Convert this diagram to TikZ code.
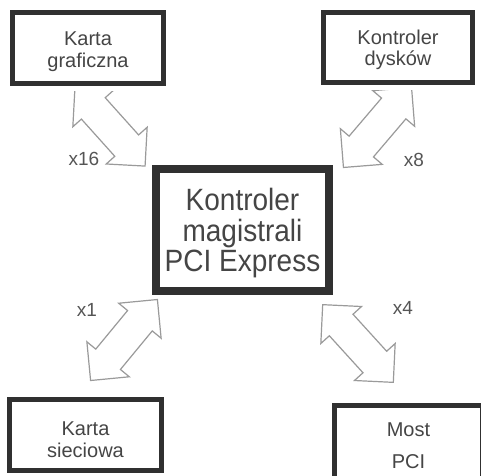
\documentclass[tikz,border=0pt]{standalone}
\usepackage{fontspec}
\setmainfont{Liberation Sans}
\usepackage{graphicx}
\definecolor{boxc}{HTML}{303030}
\definecolor{txtc}{HTML}{454545}
\definecolor{lblc}{HTML}{555555}
\definecolor{arrc}{HTML}{9A9A9A}
\newcommand{\lowered}[2]{\raisebox{#1}[\height][\depth]{#2}}
\newcommand{\twolines}[3]{\lowered{#1}{\begin{tabular}{@{}c@{}}#2\\#3\end{tabular}}}
\tikzset{
  unit/.style={draw=boxc, line width=4.5pt, fill=white, inner sep=0pt,
    align=center, text=txtc, font=\fontsize{20}{21.5}\selectfont,
    minimum width=151pt, minimum height=71pt,
    preaction={draw=white, line width=14pt}},
  hub/.style={draw=boxc, line width=8pt, fill=white, inner sep=0pt,
    align=center, text=txtc, minimum width=173pt, minimum height=122pt},
  lbl/.style={text=lblc, font=\fontsize{19}{19}\selectfont, inner sep=0pt},
  arrowline/.style={draw=arrc, line width=1.2pt, fill=white, line join=miter},
  dblarrow/.pic={\draw[arrowline] (-52.5,0) -- (-25,-27.5) -- (-25,-16) -- (25,-16)
      -- (25,-27.5) -- (52.5,0) -- (25,27.5) -- (25,16) -- (-25,16) -- (-25,27.5) -- cycle;}
}
\begin{document}
\begin{tikzpicture}[x=1pt,y=-1pt]
\useasboundingbox (0,0) rectangle (481,475);
\clip (0,0) rectangle (481,475);
\fill[white] (0,0) rectangle (481,475);
% arrow end points
\coordinate (tla) at (75,88);   \coordinate (tlb) at (145,166);
\coordinate (tra) at (412,87);  \coordinate (trb) at (343,168);
\coordinate (bla) at (157,300); \coordinate (blb) at (91,380);
\coordinate (bra) at (323,305); \coordinate (brb) at (393,382);
% arrows
\path (tla) -- (tlb) pic[pos=0.5, sloped]{dblarrow};
\path (tra) -- (trb) pic[pos=0.5, sloped]{dblarrow};
\path (bla) -- (blb) pic[pos=0.5, sloped]{dblarrow};
\path (bra) -- (brb) pic[pos=0.5, sloped]{dblarrow};
% boxes
\node[unit] (kg) at (88,48) {\twolines{-4pt}{Karta}{graficzna}};
\node[unit, minimum width=149pt, minimum height=70pt] (kd) at (398,47.5) {\twolines{-3pt}{Kontroler}{dysków}};
\node[unit, minimum width=152pt] (ks) at (85.5,435) {\twolines{-7pt}{Karta}{sieciowa}};
\node[unit, minimum width=148pt, minimum height=72.5pt] (mp) at (408.5,441.75)
  {\lowered{-4pt}{\fontsize{20}{32}\selectfont\begin{tabular}{@{}c@{}}Most\\PCI\end{tabular}}};
\node[hub] (hub) at (242.5,230) {\lowered{-4pt}{\scalebox{1}[1.1]{\fontsize{28}{25.5}\selectfont\begin{tabular}{@{}c@{}}Kontroler\\magistrali\\PCI Express\end{tabular}}}};
% labels
\node[lbl] (l16) at (84,159) {x16};
\node[lbl] (l8) at (414,160) {x8};
\node[lbl] (l1) at (87,310) {x1};
\node[lbl] (l4) at (403,308) {x4};
\end{tikzpicture}
\end{document}
